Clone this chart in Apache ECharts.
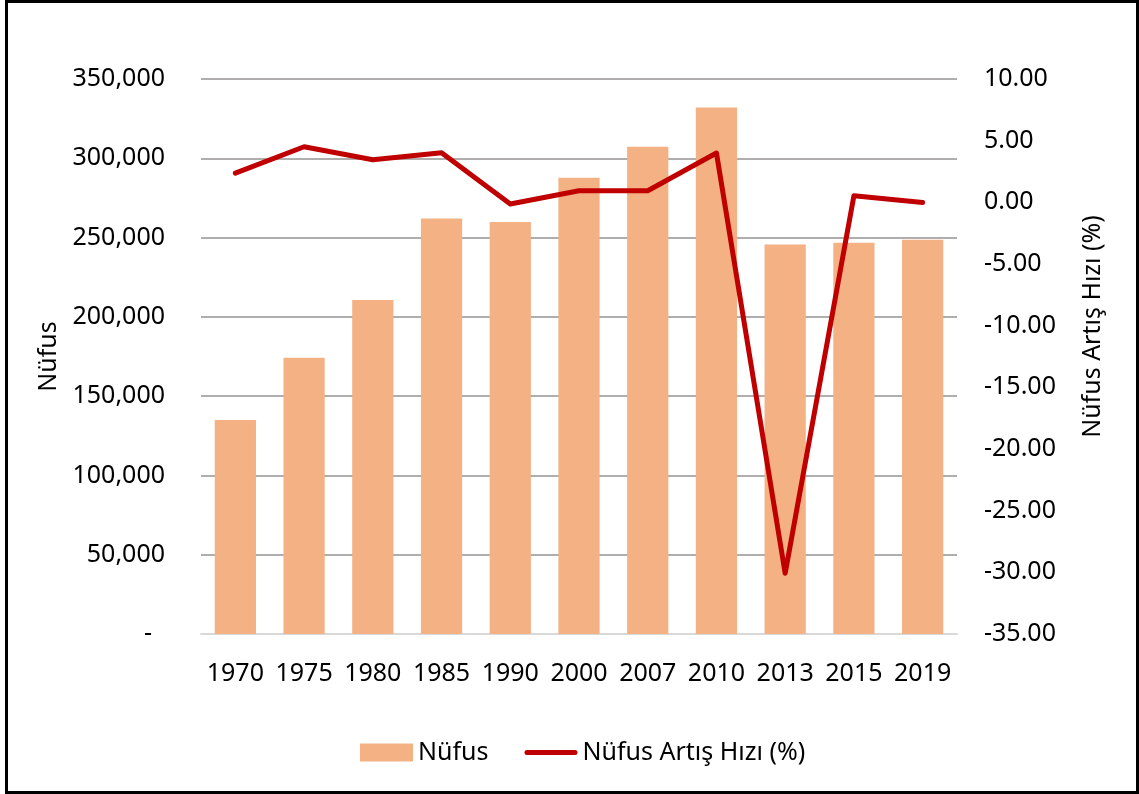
<!DOCTYPE html>
<html>
<head>
<meta charset="utf-8">
<script src="https://cdn.jsdelivr.net/npm/echarts@6/dist/echarts.min.js"></script>
<style>
  html, body { margin: 0; padding: 0; background: #fff; }
  #main { position: absolute; left: 0; top: 0; width: 1139px; height: 794px; }
  #frame { position: absolute; left: 5px; top: 0; width: 1134px; height: 794px; box-sizing: border-box; border: 3px solid #000; pointer-events: none; }
</style>
</head>
<body>
<div id="main"></div>
<div id="frame"></div>
<script>
const categories = ['1970', '1975', '1980', '1985', '1990', '2000', '2007', '2010', '2013', '2015', '2019'];
const populationValues = [135000, 174200, 210700, 262000, 259800, 287700, 307300, 332100, 245600, 246700, 248600];
const growthRateValues = [2.37, 4.51, 3.45, 4.02, -0.14, 0.94, 0.94, 4.00, -30.08, 0.53, -0.01];
const seriesNames = ['Nüfus', 'Nüfus Artış Hızı (%)'];
const leftAxisTitle = 'Nüfus';
const rightAxisTitle = 'Nüfus Artış Hızı (%)';

const FONT = 'Noto Sans';
const chart = echarts.init(document.getElementById('main'));
chart.setOption({
  backgroundColor: '#fff',
  animation: false,
  textStyle: { fontFamily: FONT },
  grid: { left: 201, right: 182, top: 79, bottom: 160, containLabel: false },
  legend: {
    bottom: 24,
    left: 355,
    itemWidth: 53,
    itemHeight: 18,
    itemGap: 36,
    textStyle: { fontFamily: FONT, fontSize: 25, color: '#000' },
    data: [
      { name: seriesNames[0], icon: 'rect' },
      { name: seriesNames[1], icon: 'path://M2.5,0L50.5,0A2.5,2.5,0,0,1,50.5,5L2.5,5A2.5,2.5,0,0,1,2.5,0Z' }
    ]
  },
  xAxis: {
    type: 'category',
    data: categories,
    axisTick: { show: false },
    axisLine: { show: true, lineStyle: { color: '#D9D9D9', width: 2 } },
    axisLabel: { fontFamily: FONT, fontSize: 25, color: '#000', margin: 27, interval: 0 }
  },
  yAxis: [
    {
      type: 'value',
      min: 0, max: 350000, interval: 50000,
      name: leftAxisTitle,
      nameLocation: 'middle',
      nameRotate: 90,
      nameGap: 134,
      nameTextStyle: { fontFamily: FONT, fontSize: 25, color: '#000' },
      axisLine: { show: false },
      axisTick: { show: false },
      splitLine: { show: true, lineStyle: { color: '#B0ADAD', width: 2 } },
      axisLabel: {
        fontFamily: FONT, fontSize: 25, color: '#000', margin: 36,
        formatter: function (v) { return v === 0 ? '{z|-}' : v.toLocaleString('en-US'); },
        rich: { z: { fontFamily: FONT, fontSize: 25, color: '#000', padding: [0, 13, 0, 0] } }
      }
    },
    {
      type: 'value',
      min: -35, max: 10, interval: 5,
      position: 'right',
      name: rightAxisTitle,
      nameLocation: 'middle',
      nameRotate: 90,
      nameGap: 123,
      nameTextStyle: { fontFamily: FONT, fontSize: 25, color: '#000', padding: [0, 0, 0, 60] },
      axisLine: { show: false },
      axisTick: { show: false },
      splitLine: { show: false },
      axisLabel: {
        fontFamily: FONT, fontSize: 25, color: '#000', margin: 27,
        formatter: function (v) { return v.toFixed(2); }
      }
    }
  ],
  series: [
    {
      name: seriesNames[0],
      type: 'bar',
      data: populationValues,
      barCategoryGap: '40%',
      itemStyle: { color: '#F4B183' }
    },
    {
      name: seriesNames[1],
      type: 'line',
      yAxisIndex: 1,
      data: growthRateValues,
      symbol: 'none',
      lineStyle: { color: '#C00000', width: 5, cap: 'round', join: 'round' },
      itemStyle: { color: '#C00000' }
    }
  ]
});
</script>
</body>
</html>
